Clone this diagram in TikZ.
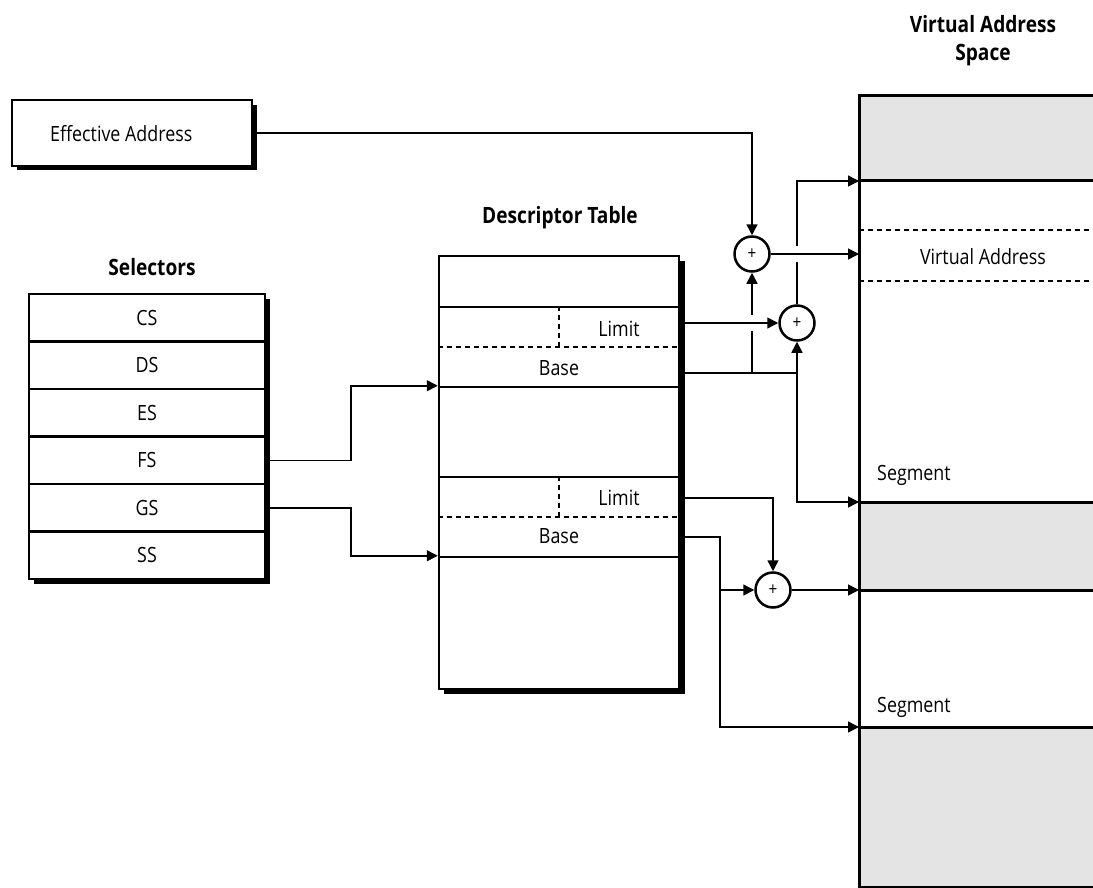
\documentclass[tikz,border=0pt]{standalone}
\usepackage{fontspec}
\setmainfont{Open Sans}[FakeStretch=0.85]
\usetikzlibrary{arrows.meta}
\definecolor{vgray}{RGB}{228,228,228}
\begin{document}
\begin{tikzpicture}[x=1pt,y=-1pt,
  conn/.style={line width=1.5pt,-{Triangle[length=11pt,width=11pt]}},
  wire/.style={line width=1.5pt},
  txt/.style={font=\fontsize{21}{24}\selectfont, inner sep=0pt},
  ttl/.style={font=\fontsize{22.5}{26}\selectfont\bfseries, inner sep=0pt, align=center},
  cell/.style={draw, fill=white, line width=2.5pt, inner sep=0pt, minimum width=#1, font=\fontsize{21}{24}\selectfont},
  sel/.style={cell=236pt, minimum height=47.5pt},
  dsc/.style={cell=240pt, minimum height=#1},
  shadowbox/.style={fill=black},
  dash2/.style={line width=2.5pt, dash pattern=on 5pt off 4pt},
  vasline/.style={line width=3pt},
  adder/.style={circle, draw, fill=white, line width=2.5pt, minimum size=35pt, inner sep=0pt, font=\fontsize{18}{18}\selectfont}]
\useasboundingbox (0,0) rectangle (1093,888);

% Effective address
\fill[shadowbox] (17,105) rectangle (257,170);
\node[cell=240pt, minimum height=66pt] (ea) at (132,133) {};
\node[txt, anchor=west] (eat) at (50,134) {Effective Address};

% Selectors
\node[ttl] (selt) at (152,267) {Selectors};
\fill[shadowbox] (34,299) rectangle (270,584);
\node[sel] (cs) at (147,317.75) {CS};
\node[sel] (ds) at (147,365.25) {DS};
\node[sel] (es) at (147,412.75) {ES};
\node[sel] (fs) at (147,460.25) {FS};
\node[sel] (gs) at (147,507.75) {GS};
\node[sel] (ss) at (147,555.25) {SS};

% Descriptor table
\node[ttl] (dtt) at (560,218) {Descriptor Table};
\fill[shadowbox] (444,261) rectangle (685,694);
\node[dsc=51pt] (d1) at (559,281.5) {};
\node[dsc=80pt] (d2) at (559,347) {};
\node[dsc=90pt] (d3) at (559,432) {};
\node[dsc=80pt] (d4) at (559,517) {};
\node[dsc=132pt] (d5) at (559,623) {};
\draw[dash2] (d2.west) -- (d2.east);
\draw[dash2] (d2.north) -- (d2.center);
\draw[dash2] (d4.west) -- (d4.east);
\draw[dash2] (d4.north) -- (d4.center);
\node[txt] (lim1t) at (619,329) {Limit};
\node[txt] (bas1t) at (559,368) {Base};
\node[txt] (lim2t) at (619,498) {Limit};
\node[txt] (bas2t) at (559,536) {Base};

% Virtual address space
\node[ttl] (vast) at (983,41) {Virtual Address\\[2pt]Space};
\fill[vgray] (859,96) rectangle (1093,181);
\fill[vgray] (859,502) rectangle (1093,590);
\fill[vgray] (859,727) rectangle (1093,887);
\draw[vasline] (1093,96) -- (859,96) -- (859,887) -- (1093,887);
\draw[vasline] (859,181) -- (1093,181);
\draw[vasline] (859,502) -- (1093,502);
\draw[vasline] (859,590) -- (1093,590);
\draw[vasline] (859,727) -- (1093,727);
\draw[dash2] (859,230) -- (1093,230);
\draw[dash2] (859,281) -- (1093,281);
\node[txt] (vat) at (983,257) {Virtual Address};
\node[txt, anchor=west] (seg1t) at (877,475) {Segment};
\node[txt, anchor=west] (seg2t) at (877,707) {Segment};
\coordinate (vL) at (859,96);
\coordinate (vS0) at (859,181);
\coordinate (vS1) at (859,502);
\coordinate (vS2) at (859,727);

% adders
\node[adder] (p1) at (752,254) {+};
\node[adder] (p2) at (797,323) {+};
\node[adder] (p3) at (773,590) {+};

% selector connectors
\coordinate (fsm) at (351,460.25);
\coordinate (gsm) at (351,507.75);
\draw[conn] (fs.east) -- (fsm) |- (d3.north west);
\draw[conn] (gs.east) -- (gsm) |- (d5.north west);

% effective address to adder
\draw[conn] (ea.east) -| (p1.north);
\draw[conn] (p1.east) -- (p1.east -| vL);

% first descriptor
\coordinate (lim1) at (679,323);
\coordinate (b1) at (679,373);
\coordinate (j1) at (752,373);
\coordinate (j2) at (797,373);
\coordinate (g1a) at (752,331);
\coordinate (g1b) at (752,315);
\coordinate (g2a) at (797,262);
\coordinate (g2b) at (797,246);
\draw[conn] (lim1) -- (p2.west);
\draw[wire] (b1) -- (j2);
\draw[wire] (j1) -- (g1a);
\draw[conn] (g1b) -- (p1.south);
\draw[conn] (j2) -- (p2.south);
\draw[conn] (j2) |- (vS1);
\draw[wire] (p2.north) -- (g2a);
\draw[conn] (g2b) |- (vS0);

% second descriptor
\coordinate (lim2) at (679,498);
\coordinate (b2) at (679,537);
\coordinate (j3) at (720,590);
\draw[conn] (lim2) -| (p3.north);
\draw[conn] (b2) -| (j3) |- (vS2);
\draw[conn] (j3) -- (p3.west);
\draw[conn] (p3.east) -- (p3.east -| vL);
\end{tikzpicture}
\end{document}
